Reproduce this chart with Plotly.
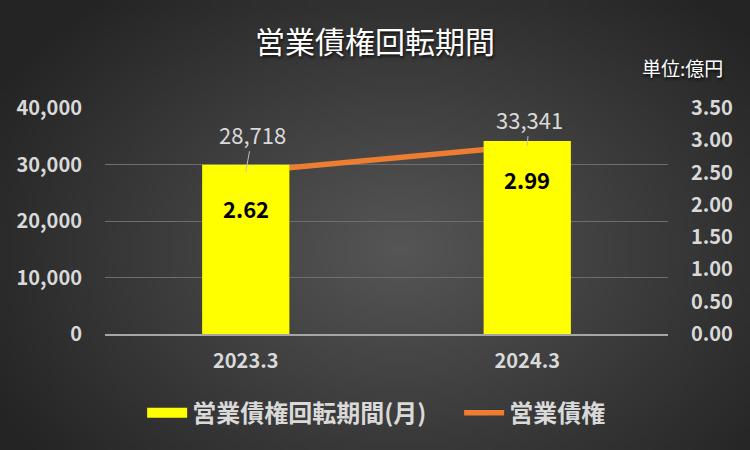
import base64
import struct
import zlib

import numpy as np
import plotly.graph_objects as go

categories = ["2023.3", "2024.3"]
kaiten_months = [2.62, 2.99]        # 営業債権回転期間(月), right axis
saiken = [28718, 33341]             # 営業債権 (億円), left axis

FONT = "Noto Sans CJK JP"
TXT = "#d9d9d9"
SHADOW = "1px 2px 3px rgba(0,0,0,0.75)"


def gradient_png(w=150, h=90):
    # radial grey background, lighter in the middle
    yy, xx = np.mgrid[0:h, 0:w]
    cx, cy = w * 0.53, h * 0.55
    d = np.sqrt(((xx - cx) / (w * 0.62)) ** 2 + ((yy - cy) / (h * 0.75)) ** 2)
    d = np.clip(d, 0, 1)
    v = (86 - (86 - 36) * d).astype(np.uint8)
    rgb = np.stack([v, v, v], axis=-1)
    raw = b"".join(b"\x00" + rgb[r].tobytes() for r in range(h))

    def chunk(tag, data):
        c = struct.pack(">I", len(data)) + tag + data
        return c + struct.pack(">I", zlib.crc32(tag + data) & 0xffffffff)

    png = b"\x89PNG\r\n\x1a\n"
    png += chunk(b"IHDR", struct.pack(">IIBBBBB", w, h, 8, 2, 0, 0, 0))
    png += chunk(b"IDAT", zlib.compress(raw, 9))
    png += chunk(b"IEND", b"")
    return "data:image/png;base64," + base64.b64encode(png).decode()


fig = go.Figure()

fig.add_trace(go.Bar(
    x=categories, y=kaiten_months, name="営業債権回転期間(月)",
    marker=dict(color="#ffff00", line=dict(width=0)),
    width=0.31, yaxis="y2", showlegend=False,
))
# legend entry drawn as a wide yellow block like the original
fig.add_trace(go.Scatter(
    x=[None], y=[None], name="営業債権回転期間(月)", mode="lines",
    line=dict(color="#ffff00", width=14), yaxis="y2", legend="legend",
))
fig.add_trace(go.Scatter(
    x=categories, y=saiken, name="営業債権", mode="lines",
    line=dict(color="#ed7d31", width=5.5), yaxis="y", legend="legend2",
))

# bar value labels (category index positions; numeric-looking names
# would be read as indices on a category axis)
bar_label_shift = [-43, -38]
for i, v in enumerate(kaiten_months):
    fig.add_annotation(x=i, y=v, yref="y2", text=f"{v:.2f}",
                       showarrow=False, yshift=bar_label_shift[i],
                       font=dict(family=FONT, size=22, color="#000000",
                                 weight="bold"))

# line value labels with leader lines
label_offsets = [(7, -38), (2, -27)]
for i, v in enumerate(saiken):
    ax, ay = label_offsets[i]
    fig.add_annotation(x=i, y=v, yref="y", text=f"{v:,}",
                       showarrow=True, arrowhead=0, arrowwidth=1,
                       arrowcolor="#bfbfbf", ax=ax, ay=ay,
                       font=dict(family=FONT, size=22, color=TXT))

fig.add_annotation(text="単位:億円", xref="paper", yref="paper",
                   x=1.102, y=1.18, xanchor="right", yanchor="middle",
                   showarrow=False,
                   font=dict(family=FONT, size=19, color="#ffffff",
                             shadow=SHADOW))

tick_font = dict(family=FONT, size=20, color=TXT, weight="bold")
legend_style = dict(orientation="h", xanchor="left", y=-0.35,
                    yanchor="middle", bgcolor="rgba(0,0,0,0)",
                    font=dict(family=FONT, size=24, color=TXT, weight=600),
                    itemwidth=40)

fig.update_layout(
    width=750, height=450,
    margin=dict(l=105, r=82, t=108, b=116),
    paper_bgcolor="#3a3a3a",
    plot_bgcolor="rgba(0,0,0,0)",
    images=[dict(source=gradient_png(), xref="paper", yref="paper",
                 x=-105 / 563, y=1 + 108 / 226, sizex=750 / 563,
                 sizey=450 / 226, sizing="stretch", layer="below",
                 xanchor="left", yanchor="top")],
    title=dict(text="営業債権回転期間", x=0.5, xanchor="center",
               y=0.905, yanchor="middle",
               font=dict(family=FONT, size=30, color="#ffffff",
                         shadow=SHADOW)),
    font=dict(family=FONT, color=TXT),
    showlegend=True,
    legend=dict(x=0.066, **legend_style),
    legend2=dict(x=0.629, **legend_style),
    xaxis=dict(type="category", range=[-0.5, 1.5], showgrid=False,
               showline=True, linecolor="#a6a6a6", linewidth=2, ticks="",
               tickfont=tick_font, ticklabelstandoff=8),
    yaxis=dict(range=[0, 40000], dtick=10000, tickformat=",",
               showgrid=True, gridcolor="#6e6e6e", gridwidth=1,
               zeroline=False, showline=False, ticks="",
               tickfont=tick_font, ticklabelstandoff=22),
    yaxis2=dict(range=[0, 3.5], dtick=0.5, tickformat=".2f",
                overlaying="y", side="right", showgrid=False,
                zeroline=False, showline=False, ticks="",
                tickfont=tick_font, ticklabelstandoff=22),
)

fig.write_html("out.html", config={"displayModeBar": False},
               post_script="document.body.style.margin='0';")
